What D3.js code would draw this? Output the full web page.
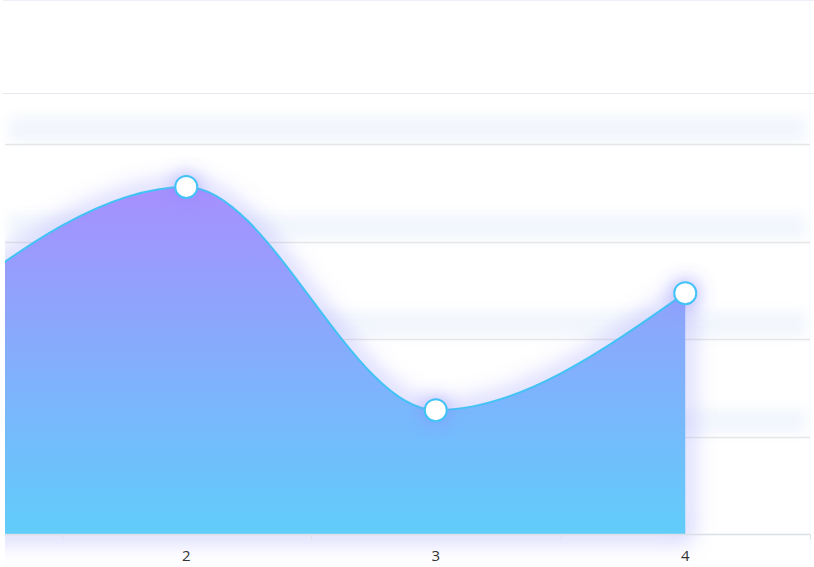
<!DOCTYPE html>
<html>
<head>
<meta charset="utf-8">
<script src="https://cdn.jsdelivr.net/npm/d3@7"></script>
<style>
  body { margin: 0; background: #fff; }
  svg { display: block; font-family: "Open Sans", "Noto Sans", sans-serif; }
</style>
</head>
<body>
<div id="chart"></div>
<script>
// data
var categories = ["1", "2", "3", "4"];
var values = [228, 356, 127, 247];
var yTicks = [0, 100, 200, 300, 400];

var w = 814, h = 567;
var plotLeft = 5, plotRight = 810, plotTop = 144, plotBottom = 534;

var svg = d3.select("#chart").append("svg")
    .attr("width", w)
    .attr("height", h);

var defs = svg.append("defs");

var grad = defs.append("linearGradient")
    .attr("id", "fillGrad")
    .attr("gradientUnits", "userSpaceOnUse")
    .attr("x1", 0).attr("y1", 187).attr("x2", 0).attr("y2", plotBottom);
grad.append("stop").attr("offset", "0%").attr("stop-color", "#a78ffd");
grad.append("stop").attr("offset", "100%").attr("stop-color", "#60cdfb");

var glow = defs.append("filter").attr("id", "glow")
    .attr("x", "-20%").attr("y", "-30%").attr("width", "140%").attr("height", "160%");
glow.append("feGaussianBlur").attr("stdDeviation", 11);

var dotGlow = defs.append("filter").attr("id", "dotGlow")
    .attr("x", "-200%").attr("y", "-200%").attr("width", "500%").attr("height", "500%");
dotGlow.append("feGaussianBlur").attr("stdDeviation", 9);

var soft = defs.append("filter").attr("id", "soft")
    .attr("x", "-5%").attr("y", "-200%").attr("width", "110%").attr("height", "500%");
soft.append("feGaussianBlur").attr("stdDeviation", 6);

defs.append("clipPath").attr("id", "plotClip")
  .append("rect").attr("x", plotLeft).attr("y", 0).attr("width", plotRight - plotLeft + 4).attr("height", h);

// scales: band scale spans past the left edge, so category 1 falls off screen
var x = d3.scaleBand().domain(categories).range([-188, plotRight]);
var y = d3.scaleLinear().domain([0, 400]).range([plotBottom, plotTop]);
var cx = function(d) { return x(d) + x.bandwidth() / 2; };

// top border lines
svg.append("line").attr("x1", 3).attr("x2", w).attr("y1", 0.5).attr("y2", 0.5)
    .attr("stroke", "#eeeef6");
svg.append("line").attr("x1", 3).attr("x2", w).attr("y1", 93.5).attr("y2", 93.5)
    .attr("stroke", "#e4e9f0");

// grid lines with a faint soft band
var grid = svg.append("g");
yTicks.slice(1).forEach(function(t) {
  grid.append("rect")
      .attr("x", plotLeft + 4).attr("width", plotRight - plotLeft - 8)
      .attr("y", y(t) - 28).attr("height", 26)
      .attr("fill", "#edf3fc").attr("opacity", 0.7)
      .attr("filter", "url(#soft)");
  grid.append("line")
      .attr("x1", plotLeft).attr("x2", plotRight)
      .attr("y1", Math.round(y(t)) + 0.5).attr("y2", Math.round(y(t)) + 0.5)
      .attr("stroke", "#e6e6e6").attr("stroke-width", 1.5);
});

var pts = categories.map(function(c, i) { return [cx(c), y(values[i])]; });

var area = d3.area().curve(d3.curveMonotoneX)
    .x(function(d) { return d[0]; }).y0(plotBottom).y1(function(d) { return d[1]; });
var line = d3.line().curve(d3.curveMonotoneX)
    .x(function(d) { return d[0]; }).y(function(d) { return d[1]; });

var plot = svg.append("g").attr("clip-path", "url(#plotClip)");

// glow around the area
plot.append("path").datum(pts)
    .attr("d", area)
    .attr("fill", "none")
    .attr("stroke", "#8a88fc")
    .attr("stroke-opacity", 0.5)
    .attr("stroke-width", 12)
    .attr("filter", "url(#glow)");

plot.append("path").datum(pts)
    .attr("d", area)
    .attr("fill", "url(#fillGrad)");

plot.append("path").datum(pts)
    .attr("d", line)
    .attr("fill", "none")
    .attr("stroke", "#42c2f5")
    .attr("stroke-width", 2);

// x axis
var axisY = plotBottom + 0.5;
svg.append("line").attr("x1", plotLeft).attr("x2", plotRight).attr("y1", axisY).attr("y2", axisY)
    .attr("stroke", "#dcdfe6").attr("stroke-width", 1.5);

var tickX = categories.map(function(c) { return x(c) + x.bandwidth(); }).filter(function(v) { return v > plotLeft; });
svg.selectAll(".tick").data(tickX).enter().append("line")
    .attr("x1", function(d) { return Math.round(d) + 0.5; })
    .attr("x2", function(d) { return Math.round(d) + 0.5; })
    .attr("y1", axisY).attr("y2", axisY + 5)
    .attr("stroke", "#dcdfe6");

svg.selectAll(".lbl").data(categories.filter(function(c) { return cx(c) > plotLeft; }))
  .enter().append("text")
    .attr("x", cx)
    .attr("y", 561)
    .attr("text-anchor", "middle")
    .attr("font-size", 15)
    .attr("fill", "#333")
    .text(function(d) { return d; });

var shown = pts.filter(function(p) { return p[0] > plotLeft; });

// point glow
plot.selectAll(".ptglow").data(shown)
  .enter().append("circle")
    .attr("cx", function(d) { return d[0]; })
    .attr("cy", function(d) { return d[1]; })
    .attr("r", 14)
    .attr("fill", "#8a88fc")
    .attr("opacity", 0.45)
    .attr("filter", "url(#dotGlow)");

// points
plot.selectAll(".pt").data(shown)
  .enter().append("circle")
    .attr("cx", function(d) { return d[0]; })
    .attr("cy", function(d) { return d[1]; })
    .attr("r", 11)
    .attr("fill", "#fff")
    .attr("stroke", "#42c2f5")
    .attr("stroke-width", 2);
</script>
</body>
</html>
